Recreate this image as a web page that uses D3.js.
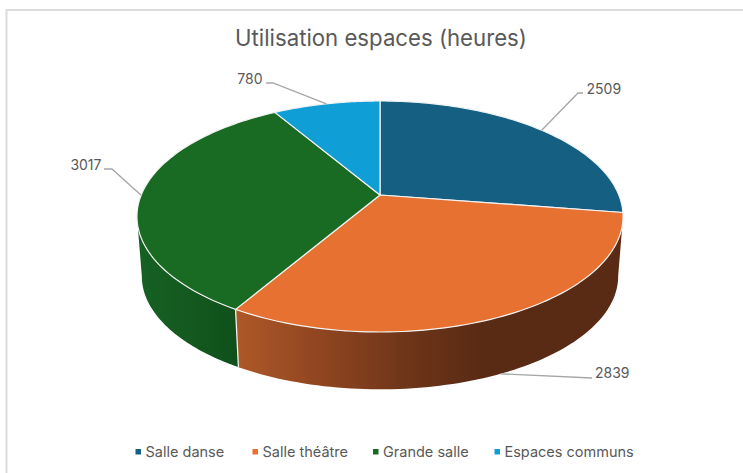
<!DOCTYPE html>
<html><head><meta charset="utf-8">
<script src="https://cdn.jsdelivr.net/npm/d3@7/dist/d3.min.js"></script>
<style>html,body{margin:0;padding:0;background:#fff}svg{display:block}text{font-family:Inter,"Open Sans",sans-serif;fill:#595959}</style>
</head><body><svg id="c" width="743" height="473"></svg>
<script>
const categories = ["Salle danse","Salle théâtre","Grande salle","Espaces communs"];
const values = [2509,2839,3017,780];
const colors = ["#156082","#E77130","#196B24","#0F9ED5"];
const chartTitle = "Utilisation espaces (heures)";

const svg = d3.select("#c");
// chart frame (top and left only)
svg.append("path").attr("d","M6.5 473V10H743").attr("fill","none").attr("stroke","#dcdcdc").attr("stroke-width",2);

// perspective projection of the pie disc
const cx=380, cy=195, B=238.8, A=111.5, k=0.186, s=0.98, vy=3200;
const faceP=t=>{const x=Math.sin(t),y=Math.cos(t),w=1+k*y;return [cx+B*x/w, cy-A*y/w];};
const baseP=t=>{const p=faceP(t);return [cx+(p[0]-cx)*s, vy+(p[1]-vy)*s];};
const slices=d3.pie().sort(null).value(d=>d)(values);
const line=d3.line();
const sample=(a,b,f,n=80)=>d3.range(n+1).map(i=>f(a+(b-a)*i/n));

const defs=svg.append("defs");
const grad=(id,x1,x2,stops)=>{const g=defs.append("linearGradient").attr("id",id).attr("gradientUnits","userSpaceOnUse")
  .attr("x1",x1).attr("x2",x2).attr("y1",0).attr("y2",0);
  stops.forEach(([o,c])=>g.append("stop").attr("offset",o).attr("stop-color",c));};
grad("gO",236,480,[[0,"#AE5828"],[0.35,"#8F4520"],[0.75,"#6A3318"],[1,"#5A2B14"]]);
grad("gG",140,240,[[0,"#166023"],[0.5,"#14591F"],[1,"#0F4F1B"]]);

// side walls, visible between the two silhouette tangents
const R=Math.PI/180, visA=100.7*R, visB=259.3*R;
const walls=[{i:1,fill:"url(#gO)"},{i:2,fill:"url(#gG)"}];
walls.forEach(w=>{
  const a=Math.max(slices[w.i].startAngle,visA), b=Math.min(slices[w.i].endAngle,visB);
  const pts=sample(a,b,faceP).concat(sample(a,b,baseP).reverse());
  svg.append("path").attr("d",line(pts)+"Z").attr("fill",w.fill);
});
// seam between the walls
const seam=slices[1].endAngle;
svg.append("path").attr("d",line([faceP(seam),baseP(seam)])).attr("stroke","#f4eee8").attr("stroke-width",1.3).attr("fill","none");

// top faces
slices.forEach((d,i)=>{
  const pts=[[cx,cy]].concat(sample(d.startAngle,d.endAngle,faceP));
  svg.append("path").attr("d",line(pts)+"Z").attr("fill",colors[i]).attr("stroke","#f2f2f2").attr("stroke-width",1.2).attr("stroke-linejoin","round");
});

// leader lines and value labels
const leaders=[
 {f:faceP,el:[578,93],end:[583,93],tx:586.5,ty:94,anchor:"start"},
 {f:baseP,el:[592,378],end:[592,378],tx:595,ty:378,anchor:"start"},
 {f:faceP,el:[112,169],end:[104,169],tx:101.5,ty:170,anchor:"end"},
 {f:faceP,el:[273,83],end:[266,83],tx:262.5,ty:84,anchor:"end"}
];
slices.forEach((d,i)=>{
  const m=(d.startAngle+d.endAngle)/2, L=leaders[i];
  svg.append("path").attr("d",line([L.f(m),L.el,L.end])).attr("fill","none").attr("stroke","#a6a6a6").attr("stroke-width",1.3);
  svg.append("text").attr("x",L.tx).attr("y",L.ty).attr("text-anchor",L.anchor).attr("font-size",14).text(d3.format("d")(values[i]));
});

svg.append("text").attr("x",381).attr("y",45.5).attr("text-anchor","middle").attr("font-size",22.2).text(chartTitle);

// legend
const legX=[135.5,252.5,373,494.5];
categories.forEach((c,i)=>{
  svg.append("rect").attr("x",legX[i]).attr("y",449).attr("width",5.5).attr("height",5.5).attr("fill",colors[i]);
  svg.append("text").attr("x",legX[i]+10).attr("y",456.5).attr("font-size",14.5).text(c);
});
</script></body></html>
